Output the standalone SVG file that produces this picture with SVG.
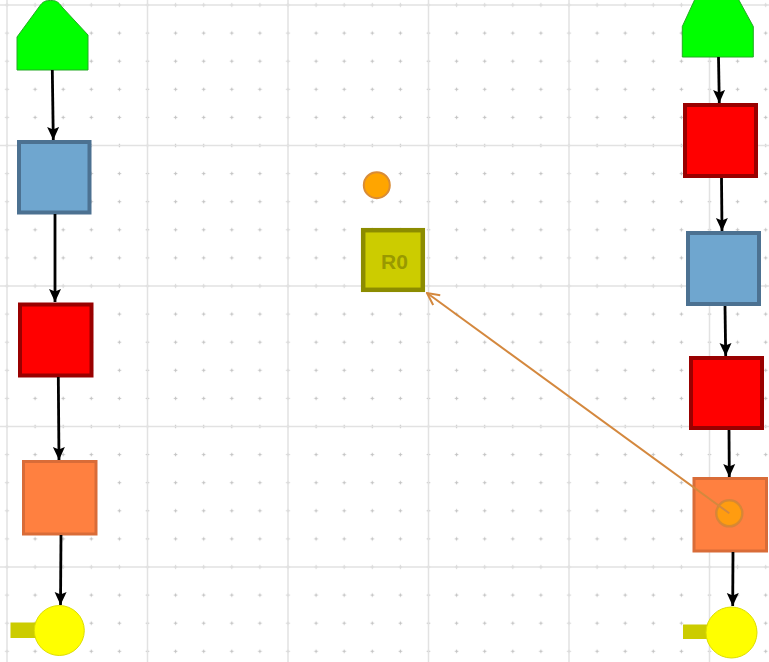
<svg xmlns="http://www.w3.org/2000/svg" width="769" height="662" viewBox="0 0 769 662">
<style>
.grid{stroke:#e2e2e2;stroke-width:1.5;fill:none}
.blue{fill:#6fa6cf;stroke:#4c7191;stroke-width:4}
.red{fill:#ff0000;stroke:#990000;stroke-width:4}
.orange{fill:#ff8040;stroke:#d96c38;stroke-width:3}
.green{fill:#00ff00;stroke:#22aa22;stroke-width:1}
.yellow{fill:#ffff00;stroke:#dddd00;stroke-width:1}
.olive{fill:#cccc00}
.conn{stroke:#000;stroke-width:2.8;fill:none;marker-end:url(#ah)}
.oconn{stroke:#d4883e;stroke-width:2;fill:none;marker-end:url(#oah)}
.label{font-family:"Liberation Sans",Arial,sans-serif;font-weight:bold;font-size:21px;fill:#999900;text-anchor:middle}
</style>
<defs>
<pattern id="dots" patternUnits="userSpaceOnUse" x="-7.05" y="-9.05" width="28.1" height="28.1">
<path d="M12.3,14.05h3.5M14.05,12.3v3.5" stroke="#c4c4c4" stroke-width="1.2"/>
</pattern>
<marker id="ah" markerWidth="13" markerHeight="13" viewBox="0 0 13 13" refX="13" refY="6.5" orient="auto" markerUnits="userSpaceOnUse">
<path d="M0,0.5L13,6.5L0,12.5L2.5,6.5Z" fill="#000"/>
</marker>
<marker id="oah" markerWidth="14" markerHeight="14" viewBox="0 0 14 14" refX="13" refY="7" orient="auto" markerUnits="userSpaceOnUse">
<path d="M1,1L13,7L1,13" fill="none" stroke="#d4883e" stroke-width="2"/>
</marker>
</defs>
<rect width="769" height="662" fill="#fff"/>
<g id="grid">
<rect width="769" height="662" fill="url(#dots)"/>
<path class="grid" d="M7,0V662M147.5,0V662M288,0V662M428.5,0V662M569,0V662M709.5,0V662M0,5H769M0,145.5H769M0,286H769M0,426.5H769M0,567H769"/>
</g>
<g id="start-left"><path class="green" d="M17,70L17,37L39,7C43,1 46,0.5 50.5,0.5C55,0.5 58,1 62,7L88,35L88,70Z"/></g>
<g id="blue-left"><rect class="blue" x="19" y="142" width="70.5" height="70.5"/></g>
<g id="red-left"><rect class="red" x="20" y="304.5" width="71.5" height="71"/></g>
<g id="orange-left"><rect class="orange" x="23.5" y="461.5" width="72.5" height="72.5"/></g>
<g id="end-left"><rect class="olive" x="10.5" y="622.5" width="26" height="15.5"/><circle class="yellow" cx="59.3" cy="630.5" r="25"/></g>
<g id="start-right"><path class="green" d="M682.3,57L682.3,26.5L695,-1L738.3,-1L753.3,26.5L753.3,57Z"/></g>
<g id="red-right-1"><rect class="red" x="685" y="105" width="71" height="71"/></g>
<g id="blue-right"><rect class="blue" x="688" y="233" width="71" height="71"/></g>
<g id="red-right-2"><rect class="red" x="691" y="358" width="71" height="70"/></g>
<g id="orange-right"><rect class="orange" x="694" y="478.5" width="72.5" height="72.5"/><circle cx="729.3" cy="513.3" r="13" fill="#ffa500" fill-opacity="0.75" stroke="#c8843a" stroke-width="2.5" stroke-opacity="0.7"/></g>
<g id="end-right"><rect class="olive" x="683" y="624.5" width="26" height="14.5"/><circle class="yellow" cx="731.5" cy="632.5" r="25.5"/></g>
<g id="marker-top"><circle cx="376.8" cy="185.2" r="13" fill="#ffa500" stroke="#d98c36" stroke-width="2"/></g>
<g id="R0"><rect x="363.2" y="230.2" width="59.6" height="59.6" fill="#cccc00" stroke="#8c8c00" stroke-width="4.5"/><text class="label" x="394.5" y="268.5">R0</text></g>
<g id="connectors">
<path class="conn" d="M52.3,70L53.3,140"/>
<path class="conn" d="M55,214L55,302"/>
<path class="conn" d="M58.3,377L59,460"/>
<path class="conn" d="M61,535L60.5,605"/>
<path class="conn" d="M718.5,57L719.3,103"/>
<path class="conn" d="M721.5,178L722,231"/>
<path class="conn" d="M725,306L725.7,356"/>
<path class="conn" d="M729,430L729.3,477"/>
<path class="conn" d="M733,552L732.7,606"/>
<path class="oconn" d="M729.3,513.3L427,293"/>
</g>
</svg>
